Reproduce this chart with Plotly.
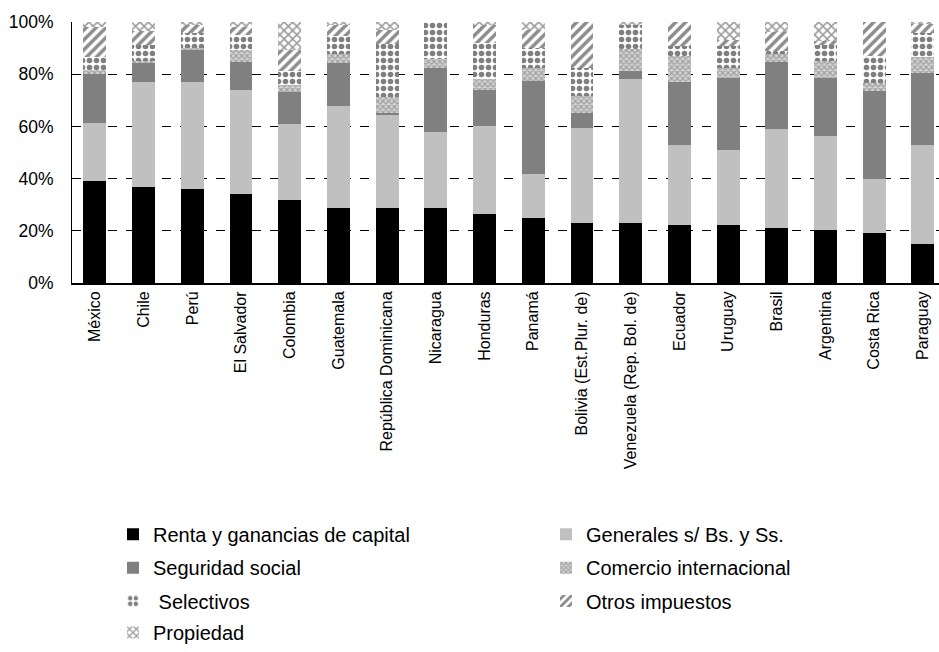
import plotly.graph_objects as go

countries = ["México", "Chile", "Perú", "El Salvador", "Colombia", "Guatemala",
             "República Dominicana", "Nicaragua", "Honduras", "Panamá",
             "Bolivia (Est.Plur. de)", "Venezuela (Rep. Bol. de)", "Ecuador",
             "Uruguay", "Brasil", "Argentina", "Costa Rica", "Paraguay"]

renta      = [39.1, 36.6, 36.0, 34.1, 31.8, 28.8, 28.8, 28.8, 26.3, 25.0, 22.8, 22.8, 22.1, 22.1, 20.9, 20.3, 19.0, 14.8]
generales  = [22.3, 40.5, 41.1, 39.9, 29.0, 39.2, 35.9, 28.9, 34.0, 16.6, 36.7, 55.3, 30.8, 29.0, 38.1, 36.2, 20.7, 38.1]
seguridad  = [18.6,  7.1, 12.0, 10.6, 12.5, 16.2,  0.5, 24.6, 13.8, 35.9,  5.8,  3.0, 24.0, 27.6, 25.6, 22.2, 33.8, 27.6]
comercio   = [ 1.5,  0.8,  1.0,  4.5,  2.7,  3.7,  6.0,  3.7,  4.0,  5.0,  6.4,  8.6, 10.0,  3.6,  3.2,  6.3,  3.0,  6.0]
selectivos = [ 5.0,  6.1,  5.6,  6.0,  5.3,  6.6, 20.2, 14.0, 13.9,  7.6, 10.6,  9.2,  3.8,  8.4,  1.0,  6.3, 10.4,  9.2]
otros      = [11.7,  5.3,  3.2,  3.1,  8.1,  4.4,  5.6,  0.0,  6.9,  6.9, 17.7,  0.0,  9.3,  2.5,  7.4,  1.5, 13.1,  3.8]
propiedad  = [ 1.8,  3.6,  1.1,  1.8, 10.6,  1.1,  3.0,  0.0,  1.1,  3.0,  0.0,  1.1,  0.0,  6.8,  3.8,  7.2,  0.0,  0.5]

y_ticks = [0, 20, 40, 60, 80, 100]
y_tick_labels = ["0%", "20%", "40%", "60%", "80%", "100%"]

FONT = "Liberation Sans, Arial, sans-serif"

series = [
    ("Renta y ganancias de capital", renta, dict(color="#000000")),
    ("Generales s/ Bs. y Ss.", generales, dict(color="#c0c0c0")),
    ("Seguridad social", seguridad, dict(color="#808080")),
    ("Comercio internacional", comercio,
     dict(color="#ffffff", pattern=dict(shape="x", fgcolor="#6a6a6a", bgcolor="#d4d4d4",
                                       size=4, solidity=0.5))),
    (" Selectivos", selectivos,
     dict(color="#ffffff", pattern=dict(shape=".", fgcolor="#000000", bgcolor="#ffffff",
                                       size=7, solidity=0.5))),
    ("Otros impuestos", otros,
     dict(color="#ffffff", pattern=dict(shape="/", fgcolor="#1a1a1a", bgcolor="#ffffff",
                                       size=7, solidity=0.5))),
    ("Propiedad", propiedad,
     dict(color="#ffffff", pattern=dict(shape="x", fgcolor="#333333", bgcolor="#ffffff",
                                       size=6, solidity=0.45))),
]

H = 652
top, bottom_px = 22, 287
plot_h = bottom_px - top
left = 72
plot_w = 939 - left


def py(pix):
    return (bottom_px - pix) / plot_h


def px(pix):
    return (pix - left) / plot_w


# legend slot positions (pixel) for each series: two columns, four rows
slots = [(113, 542), (546, 542), (113, 576), (546, 576), (113, 610), (546, 610), (113, 643)]

fig = go.Figure()
legend_layout = {}
for i, ((name, vals, marker), (lx, ly)) in enumerate(zip(series, slots)):
    key = "legend" if i == 0 else f"legend{i + 1}"
    m = dict(marker)
    m["line"] = dict(width=0)
    fig.add_trace(go.Bar(x=countries, y=vals, name=name, marker=m, legend=key,
                         showlegend=True))
    legend_layout[key] = dict(
        x=px(lx), y=py(ly), xanchor="left", yanchor="middle", orientation="v",
        font=dict(family=FONT, size=20, color="#000000"),
        bgcolor="rgba(0,0,0,0)", borderwidth=0, visible=True,
        itemclick=False, itemdoubleclick=False,
    )

fig.update_layout(
    width=939, height=H, showlegend=True,
    margin=dict(l=left, r=0, t=top, b=H - bottom_px, pad=0),
    barmode="stack", bargap=0.53,
    plot_bgcolor="#ffffff", paper_bgcolor="#ffffff",
    font=dict(family=FONT, size=16, color="#000000"),
    xaxis=dict(
        type="category", range=[-0.47, 17.33], tickangle=-90,
        showline=True, linecolor="#000000", linewidth=2,
        ticks="", showgrid=False, tickfont=dict(family=FONT, size=16, color="#000000"),
    ),
    yaxis=dict(
        range=[0, 100], tickmode="array", tickvals=y_ticks, ticktext=y_tick_labels,
        showline=True, linecolor="#000000", linewidth=1,
        showgrid=True, gridcolor="#000000", gridwidth=1.3, griddash="dash",
        zeroline=False, ticks="", ticklabelstandoff=14,
        tickfont=dict(family=FONT, size=17.5, color="#000000"),
    ),
    **legend_layout,
)

fig.write_html("out.html")
